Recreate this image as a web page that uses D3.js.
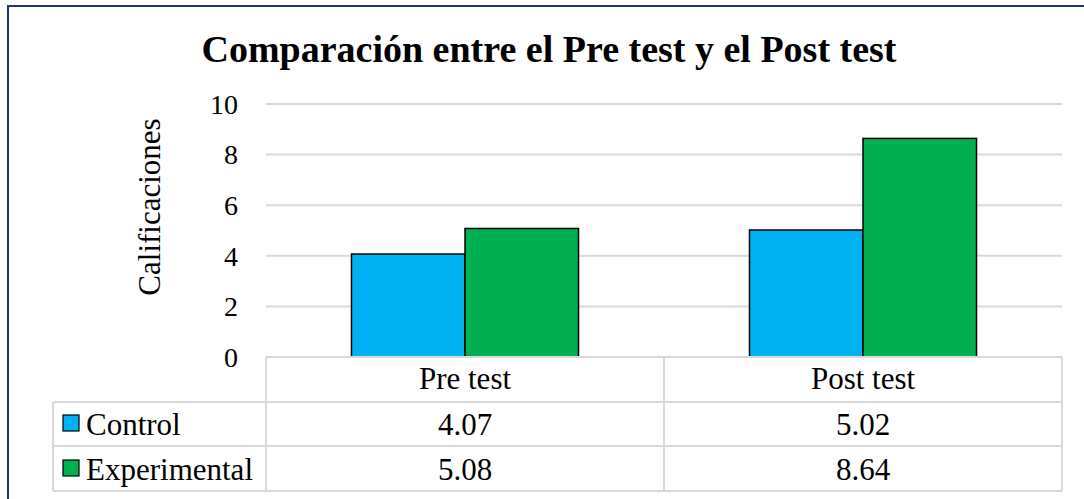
<!DOCTYPE html>
<html><head><meta charset="utf-8">
<script src="https://cdn.jsdelivr.net/npm/d3@7"></script>
<style>body{margin:0;background:#fff}svg{display:block}text{font-family:"Liberation Serif","Times New Roman",serif;fill:#000}</style>
</head><body>
<svg id="c" width="1084" height="499"></svg>
<script>
const title = "Comparación entre el Pre test y el Post test";
const yTitle = "Calificaciones";
const categories = ["Pre test", "Post test"];
const seriesNames = ["Control", "Experimental"];
const control = [4.07, 5.02];
const experimental = [5.08, 8.64];
const yTicks = [0, 2, 4, 6, 8, 10];
const colors = ["#00b0f0", "#00b050"];

(function () {
const values = [control, experimental];
const svg = d3.select("#c");

// outer border (right/bottom fall outside the picture)
svg.append("rect").attr("x", 8).attr("y", 6).attr("width", 1100).attr("height", 520)
  .attr("fill", "none").attr("stroke", "#203864").attr("stroke-width", 2);

svg.append("text").attr("x", 549).attr("y", 62).attr("text-anchor", "middle")
  .style("font-size", "38px").style("font-weight", "bold").text(title);

const pLeft = 266, pRight = 1062, pTop = 104, pBase = 357;
const y = d3.scaleLinear().domain([0, 10]).range([pBase, pTop]);
const x0 = d3.scaleBand().domain(categories).range([pLeft, pRight]).padding(0);
const x1 = d3.scaleBand().domain(seriesNames).range([0, x0.bandwidth()]).paddingInner(0).paddingOuter(0.753);

// gridlines
svg.append("g").selectAll("line").data(yTicks.filter(t => t > 0)).join("line")
  .attr("x1", pLeft).attr("x2", pRight).attr("y1", d => y(d)).attr("y2", d => y(d))
  .attr("stroke", "#d9d9d9").attr("stroke-width", 2);

// y axis labels
const yAxis = d3.axisLeft(y).tickValues(yTicks).tickSize(0).tickPadding(0);
const gy = svg.append("g").attr("transform", "translate(238,0)").call(yAxis);
gy.select(".domain").remove();
gy.selectAll("text").style("font-size", "28px").style("font-family", '"Liberation Serif",serif').attr("fill", "#000").attr("dy", "0.33em");

svg.append("text").attr("transform", "translate(160,207) rotate(-90)").attr("text-anchor", "middle")
  .style("font-size", "31px").text(yTitle);

// bars
seriesNames.forEach((s, si) => {
  svg.append("g").selectAll("rect").data(categories).join("rect")
    .attr("x", (c) => x0(c) + x1(s))
    .attr("width", x1.bandwidth())
    .attr("y", (c, i) => y(values[si][i]))
    .attr("height", (c, i) => pBase - y(values[si][i]))
    .attr("fill", colors[si]).attr("stroke", "#000").attr("stroke-width", 1.5);
});

// data table
const tLeft = 53, rowY = [357, 402, 446, 491];
const tg = svg.append("g").attr("stroke", "#d9d9d9").attr("stroke-width", 2).attr("fill", "none");
tg.append("line").attr("x1", pLeft).attr("x2", pRight).attr("y1", rowY[0]).attr("y2", rowY[0]);
[1, 2, 3].forEach(r => tg.append("line").attr("x1", tLeft).attr("x2", pRight).attr("y1", rowY[r]).attr("y2", rowY[r]));
tg.append("line").attr("x1", tLeft).attr("x2", tLeft).attr("y1", rowY[1]).attr("y2", rowY[3]);
[pLeft, x0("Post test"), pRight].forEach(xx => tg.append("line").attr("x1", xx).attr("x2", xx).attr("y1", rowY[0]).attr("y2", rowY[3]));

categories.forEach((c, i) => {
  svg.append("text").attr("x", x0(c) + x0.bandwidth() / 2).attr("y", 389).attr("text-anchor", "middle")
    .style("font-size", "31px").text(c);
  seriesNames.forEach((s, si) => {
    svg.append("text").attr("x", x0(c) + x0.bandwidth() / 2).attr("y", 435 + si * 45).attr("text-anchor", "middle")
      .style("font-size", "31px").text(values[si][i].toFixed(2));
  });
});
seriesNames.forEach((s, si) => {
  svg.append("rect").attr("x", 63).attr("y", 415 + si * 45).attr("width", 16).attr("height", 16)
    .attr("fill", colors[si]).attr("stroke", "#000").attr("stroke-width", 1.2);
  svg.append("text").attr("x", 86).attr("y", 435 + si * 45).style("font-size", "31px").text(s);
});
})();
</script>
</body></html>
